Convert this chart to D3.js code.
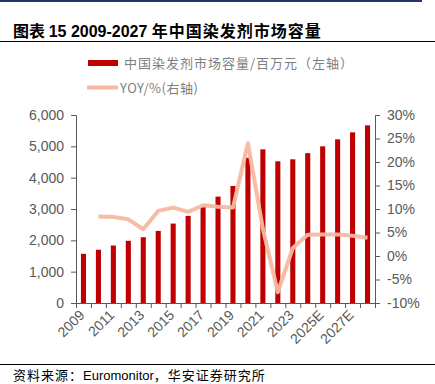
<!DOCTYPE html>
<html>
<head>
<meta charset="utf-8">
<script src="https://cdn.jsdelivr.net/npm/d3@7"></script>
<style>
  body { margin: 0; background: #fff; }
  svg { display: block; }
</style>
</head>
<body>
<svg id="chart" width="435" height="384"></svg>
<script>
// data
const years = ['2009','2010','2011','2012','2013','2014','2015','2016','2017','2018',
  '2019','2020','2021','2022','2023','2024','2025E','2026E','2027E','2028E'];
const marketSize = [1570, 1700, 1835, 1985, 2100, 2300, 2535, 2780, 3075, 3395,
  3735, 4637, 4904, 4522, 4586, 4783, 5000, 5223, 5446, 5669];
const yoy = [null, 8.4, 8.3, 7.8, 5.7, 9.6, 10.3, 9.4, 10.8, 10.5,
  10.3, 24.0, 5.8, -7.7, 1.7, 4.5, 4.6, 4.6, 4.3, 3.9];
const leftTicks = [0, 1000, 2000, 3000, 4000, 5000, 6000];
const rightTicks = [-10, -5, 0, 5, 10, 15, 20, 25, 30];

const svg = d3.select('#chart');
const margin = { top: 115, right: 60, bottom: 81, left: 76 };
const width = 435, height = 384;

const cjk = '"Noto Sans CJK SC", sans-serif';
const latin = '"Liberation Sans", Arial, sans-serif';

// top rule + title
svg.append('rect').attr('x', 0).attr('y', 0).attr('width', 422).attr('height', 2).attr('fill', '#1f3864');
const title = svg.append('text').attr('x', 13).attr('y', 37)
  .attr('font-size', 16).attr('font-weight', 'bold').attr('fill', '#000');
title.append('tspan').attr('font-family', cjk).text('图表 ');
title.append('tspan').attr('font-family', latin).text('15 2009-2027 ');
title.append('tspan').attr('font-family', cjk).attr('letter-spacing', 1).text('年中国染发剂市场容量');
svg.append('line').attr('x1', 0).attr('x2', 435).attr('y1', 41.5).attr('y2', 41.5)
  .attr('stroke', '#000').attr('stroke-width', 1);

const x = d3.scaleBand().domain(years)
  .range([margin.left, width - margin.right]).paddingInner(0.66).paddingOuter(0.33);
const yL = d3.scaleLinear().domain([0, 6000]).range([height - margin.bottom, margin.top]);
const yR = d3.scaleLinear().domain([-10, 30]).range([height - margin.bottom, margin.top]);

// legend
const lg = svg.append('g');
lg.append('rect').attr('x', 88).attr('y', 60).attr('width', 30).attr('height', 6).attr('fill', '#c00000');
lg.append('text').attr('x', 124).attr('y', 67.5).attr('font-family', cjk).attr('font-size', 13)
  .attr('letter-spacing', 1).attr('fill', '#808080').text('中国染发剂市场容量/百万元（左轴）');
lg.append('line').attr('x1', 87).attr('x2', 118).attr('y1', 87.5).attr('y2', 87.5)
  .attr('stroke', '#f5b8a0').attr('stroke-width', 4);
lg.append('text').attr('x', 120).attr('y', 93).attr('font-family', cjk).attr('font-size', 13)
  .attr('letter-spacing', 0.5).attr('fill', '#808080').text('YOY/%(右轴)');

// bars
svg.append('g').selectAll('rect').data(years).join('rect')
  .attr('x', d => x(d))
  .attr('width', x.bandwidth())
  .attr('y', (d, i) => yL(marketSize[i]))
  .attr('height', (d, i) => yL(0) - yL(marketSize[i]))
  .attr('fill', '#c00000');

// YoY line
const pts = years.map((d, i) => ({ year: d, v: yoy[i] })).filter(p => p.v !== null);
const line = d3.line().x(p => x(p.year) + x.bandwidth() / 2).y(p => yR(p.v));
svg.append('path').datum(pts).attr('d', line)
  .attr('fill', 'none').attr('stroke', '#f5b8a0').attr('stroke-width', 4)
  .attr('stroke-linejoin', 'round').attr('stroke-opacity', 0.95);

// axes
const axisColor = '#595959';
const left = svg.append('g').attr('transform', `translate(${margin.left},0)`)
  .call(d3.axisLeft(yL).tickValues(leftTicks).tickSize(5).tickPadding(7).tickFormat(d3.format(',')));
const right = svg.append('g').attr('transform', `translate(${width - margin.right},0)`)
  .call(d3.axisRight(yR).tickValues(rightTicks).tickSize(5).tickPadding(7).tickFormat(d => d + '%'));

// x axis: ticks on category boundaries, labels every other year
const bottomY = height - margin.bottom;
const step = x.step();
const xa = svg.append('g');
xa.append('line').attr('x1', margin.left - 5).attr('x2', width - margin.right)
  .attr('y1', bottomY + 0.5).attr('y2', bottomY + 0.5).attr('stroke', axisColor);
xa.selectAll('line.tk').data(d3.range(years.length + 1)).join('line').attr('class', 'tk')
  .attr('x1', i => margin.left + i * step + 0.5).attr('x2', i => margin.left + i * step + 0.5)
  .attr('y1', bottomY).attr('y2', bottomY + 5).attr('stroke', axisColor);
xa.selectAll('text').data(years.filter((d, i) => i % 2 === 0)).join('text')
  .attr('transform', d => `translate(${x(d) + x.bandwidth() / 2 + 2},${bottomY + 13}) rotate(-45)`)
  .attr('text-anchor', 'end').attr('font-family', latin).attr('font-size', 14)
  .attr('fill', axisColor).text(d => d);

[left, right].forEach(g => {
  g.select('.domain').attr('stroke', axisColor);
  g.selectAll('.tick line').attr('stroke', axisColor);
  g.selectAll('.tick text').attr('font-family', latin).attr('font-size', 14).attr('fill', axisColor);
});

// footer
svg.append('line').attr('x1', 0).attr('x2', 435).attr('y1', 364.5).attr('y2', 364.5)
  .attr('stroke', '#000').attr('stroke-width', 1);
const src = svg.append('text').attr('x', 13).attr('y', 380).attr('font-size', 13).attr('fill', '#000');
src.append('tspan').attr('font-family', cjk).attr('letter-spacing', 1).text('资料来源：');
src.append('tspan').attr('font-family', latin).text('Euromonitor');
src.append('tspan').attr('font-family', cjk).attr('letter-spacing', 1).text('，华安证券研究所');
</script>
</body>
</html>
